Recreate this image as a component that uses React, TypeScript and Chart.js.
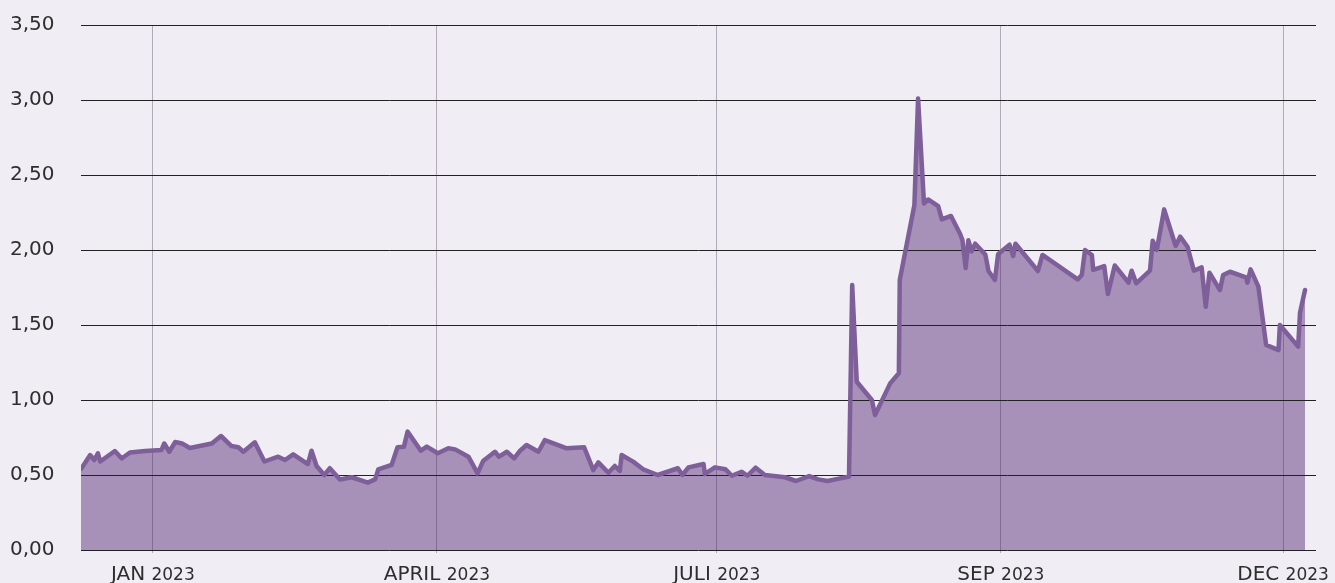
import React, { useEffect, useRef } from "react";
import { Chart, registerables } from "chart.js";

Chart.register(...registerables);

// trading-day index (x) and price (y)
const dayIndex = [
  0, 2.0, 2.9, 3.7, 4.2, 7.4, 8.9, 10.7, 14.0, 17.6, 18.2, 19.3, 20.6, 22.1, 23.8, 28.6, 30.6, 32.9, 34.4, 35.5,
  38.0, 40.1, 43.1, 44.6, 46.4, 49.6, 50.4, 51.5, 53.2, 54.4, 56.6, 59.2, 62.7, 64.3, 65.0, 67.9, 69.2, 70.6, 71.4, 74.3,
  75.6, 78.0, 80.3, 81.8, 84.7, 86.7, 87.9, 90.5, 91.4, 93.1, 94.7, 96.0, 97.4, 100.0, 101.4, 106.2, 110.0, 112.0, 113.1, 115.3,
  116.7, 117.8, 118.2, 120.7, 122.9, 126.1, 130.5, 131.5, 132.8, 136.1, 136.4, 138.6, 140.9, 142.3, 144.4, 145.7, 147.5, 149.5, 153.9, 156.3,
  159.2, 161.2, 163.2, 167.9, 168.6, 169.6, 172.9, 173.6, 176.9, 178.8, 179.0, 182.2, 183.0, 184.3, 185.2, 187.4, 188.2, 190.2, 192.2, 192.7,
  193.4, 194.0, 194.7, 195.5, 197.7, 198.4, 199.8, 200.5, 203.0, 203.8, 204.3, 209.2, 210.2, 217.9, 218.8, 219.5, 221.0, 221.3, 223.7, 224.5,
  226.0, 229.0, 229.7, 230.7, 233.7, 234.3, 235.2, 236.8, 239.3, 240.3, 241.9, 243.3, 245.0, 245.9, 246.7, 249.0, 249.7, 251.2, 254.7, 255.0,
  255.7, 257.4, 259.1, 261.8, 262.1, 266.1, 266.5, 267.6,
];

const price = [
  0.54, 0.633, 0.60, 0.645, 0.59, 0.66, 0.61, 0.65, 0.66, 0.667, 0.71, 0.655, 0.72, 0.71, 0.68, 0.71, 0.76, 0.693, 0.685, 0.655,
  0.718, 0.59, 0.622, 0.60, 0.638, 0.573, 0.662, 0.56, 0.50, 0.545, 0.47, 0.485, 0.449, 0.471, 0.538, 0.567, 0.685, 0.689, 0.789, 0.662,
  0.689, 0.645, 0.678, 0.671, 0.622, 0.511, 0.593, 0.655, 0.622, 0.655, 0.611, 0.662, 0.70, 0.655, 0.733, 0.678, 0.685, 0.533, 0.584, 0.515,
  0.56, 0.527, 0.633, 0.589, 0.538, 0.50, 0.545, 0.50, 0.551, 0.573, 0.507, 0.551, 0.538, 0.495, 0.522, 0.495, 0.549, 0.50, 0.485, 0.46,
  0.493, 0.471, 0.46, 0.489, 1.767, 1.122, 1.00, 0.90, 1.111, 1.178, 1.80, 2.30, 3.01, 2.31, 2.337, 2.293, 2.204, 2.227, 2.107, 2.067,
  1.88, 2.065, 1.99, 2.042, 1.97, 1.86, 1.80, 1.972, 2.036, 1.96, 2.042, 1.86, 1.967, 1.804, 1.833, 2.00, 1.967, 1.867, 1.893, 1.707,
  1.897, 1.782, 1.862, 1.778, 1.862, 2.062, 2.00, 2.271, 2.027, 2.089, 2.022, 1.862, 1.884, 1.622, 1.849, 1.733, 1.833, 1.855, 1.818, 1.782,
  1.871, 1.756, 1.367, 1.333, 1.50, 1.356, 1.582, 1.733,
];

const monthLabels = ["JAN", "APRIL", "JULI", "SEP", "DEC"];
const yearLabels = ["2023", "2023", "2023", "2023", "2023"];
const monthTickIndex = [15.7, 77.8, 139.0, 201.1, 262.8];

const BG = "#f0eef4";
const FILL = "#a791b8";
const LINE = "#7f5f9a";
const TEXT = "#2e2e2e";
const FONT = "'DejaVu Sans', sans-serif";

const xLabelPlugin = {
  id: "xLabels",
  afterDraw(chart: any) {
    const ctx = chart.ctx;
    const xs = chart.scales.x;
    ctx.save();
    ctx.fillStyle = TEXT;
    ctx.textBaseline = "alphabetic";
    ctx.textAlign = "left";
    monthLabels.forEach((m, i) => {
      const px = xs.getPixelForValue(monthTickIndex[i]);
      const mFont = `normal 20px ${FONT}`;
      const yFont = `normal 17px ${FONT}`;
      ctx.font = mFont;
      const mw = ctx.measureText(m + " ").width;
      ctx.font = yFont;
      const yw = ctx.measureText(yearLabels[i]).width;
      let start = px - (mw + yw) / 2;
      const right = chart.width - 2;
      if (start + mw + yw > right) start = right - mw - yw;
      ctx.font = mFont;
      ctx.fillText(m + " ", start, 580);
      ctx.font = yFont;
      ctx.fillText(yearLabels[i], start + mw, 580);
    });
    ctx.restore();
  },
};

export default function App() {
  const ref = useRef<HTMLCanvasElement | null>(null);

  useEffect(() => {
    if (!ref.current) return;
    const chart = new Chart(ref.current, {
      type: "line",
      data: {
        datasets: [
          {
            data: dayIndex.map((x, i) => ({ x, y: price[i] })),
            borderColor: LINE,
            backgroundColor: FILL,
            borderWidth: 4.5,
            borderJoinStyle: "round",
            borderCapStyle: "round",
            fill: "origin",
            pointRadius: 0,
            tension: 0,
          },
        ],
      },
      options: {
        animation: false,
        responsive: true,
        maintainAspectRatio: false,
        layout: { padding: { left: 10, right: 19, top: 25, bottom: 0 } },
        plugins: {
          legend: { display: false },
          tooltip: { enabled: false },
          filler: { drawTime: "beforeDraw" },
        } as any,
        scales: {
          x: {
            type: "linear",
            min: 0,
            max: 270,
            afterBuildTicks: (scale: any) => {
              scale.ticks = monthTickIndex.map((v) => ({ value: v }));
            },
            afterFit: (scale: any) => {
              scale.height = 33;
            },
            ticks: { display: false },
            border: { display: false },
            grid: {
              color: "rgba(60,45,75,0.35)",
              lineWidth: 1,
              drawTicks: true,
              tickLength: 3,
            },
          },
          y: {
            min: 0,
            max: 3.5,
            afterFit: (scale: any) => {
              scale.width = 71;
            },
            ticks: {
              stepSize: 0.5,
              crossAlign: "far",
              color: TEXT,
              font: { family: FONT, size: 20, weight: "normal" },
              callback: (v: any) => Number(v).toFixed(2).replace(".", ","),
            },
            border: { display: false },
            grid: { color: "#222222", lineWidth: 1, drawTicks: false },
          },
        },
      },
      plugins: [xLabelPlugin],
    });
    return () => chart.destroy();
  }, []);

  return (
    <div
      style={{
        position: "fixed",
        left: 0,
        top: 0,
        width: 1335,
        height: 583,
        background: BG,
      }}
    >
      <canvas ref={ref} />
    </div>
  );
}
